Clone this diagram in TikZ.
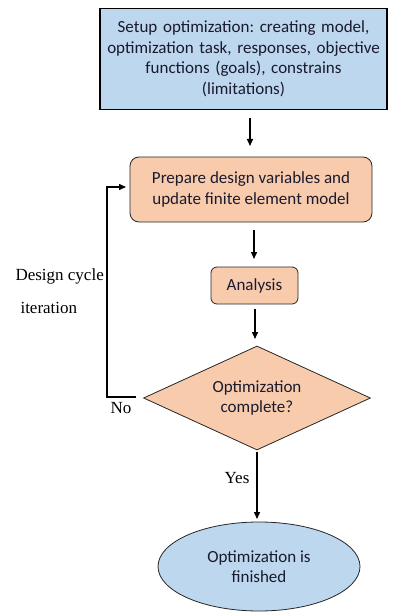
\documentclass[tikz,border=0pt]{standalone}
\usepackage{fontspec}
\setmainfont{Carlito}
\newfontfamily\serifface{Liberation Serif}
\usetikzlibrary{shapes.geometric,arrows.meta}
\definecolor{boxblue}{HTML}{BDD7EE}
\definecolor{boxpeach}{HTML}{F8CBAD}
\definecolor{txt}{HTML}{1A1A2E}
\frenchspacing
\begin{document}
\begin{tikzpicture}[x=1pt,y=-1pt,
  every node/.style={font=\fontsize{17}{20.5}\selectfont, text=txt},
  setupbox/.style={draw=black, line width=1.6pt, fill=boxblue, minimum width=287pt, minimum height=101pt, align=center},
  procbox/.style={draw=black!85, line width=0.8pt, fill=boxpeach, rounded corners=9pt, align=center},
  decision/.style={diamond, draw=black!85, line width=0.8pt, fill=boxpeach, aspect=2.18, minimum width=227pt, minimum height=104pt, inner sep=0pt, align=center},
  terminal/.style={ellipse, draw=black!85, line width=0.8pt, fill=boxblue, minimum width=202pt, minimum height=89pt, inner sep=0pt, align=center},
  flow/.style={line width=1.4pt, -{Triangle[length=7pt,width=6pt]}},
  note/.style={font=\serifface\fontsize{17}{20}\selectfont, text=black}
]
\useasboundingbox (0,0) rectangle (392,612);

\node[setupbox, text width=280pt] (setup) at (243.5,59) {\frenchspacing Setup optimization: creating model,\\optimization task, responses, objective\\functions (goals), constrains\\(limitations)};
\node[procbox, minimum width=242pt, minimum height=65pt, font=\fontsize{17}{21}\selectfont] (prep) at (251,189.5) {Prepare design variables and\\update finite element model};
\node[procbox, minimum width=87pt, minimum height=37pt, rounded corners=6pt] (ana) at (254.5,285.5) {Analysis};
\node[decision] (dec) at (257,398) {Optimization\\complete?};
\node[terminal] (fin) at (259,566.5) {Optimization is\\finished};

\coordinate (a1s) at (250,118);
\coordinate (a1e) at (250,146);
\draw[flow] (a1s) -- (a1e);
\coordinate (a2s) at (254,230);
\coordinate (a2e) at (254,259);
\draw[flow] (a2s) -- (a2e);
\coordinate (a3s) at (255,309);
\coordinate (a3e) at (255,339);
\draw[flow] (a3s) -- (a3e);
\coordinate (a4s) at (257,452);
\coordinate (a4e) at (257,519);
\draw[flow] (a4s) -- (a4e);

% feedback loop back to the design step
\coordinate (ls) at (136,397);
\coordinate (lc1) at (107,397);
\coordinate (lc2) at (107,187);
\coordinate (le) at (126,187);
\draw[flow] (ls) -- (lc1) -- (lc2) -- (le);

\node[note, anchor=west] (dc) at (12,276) {Design cycle};
\node[note, anchor=west] (it) at (17,308) {iteration};
\node[note] (no) at (121,408) {No};
\node[note] (yes) at (237,478) {Yes};
\end{tikzpicture}
\end{document}
